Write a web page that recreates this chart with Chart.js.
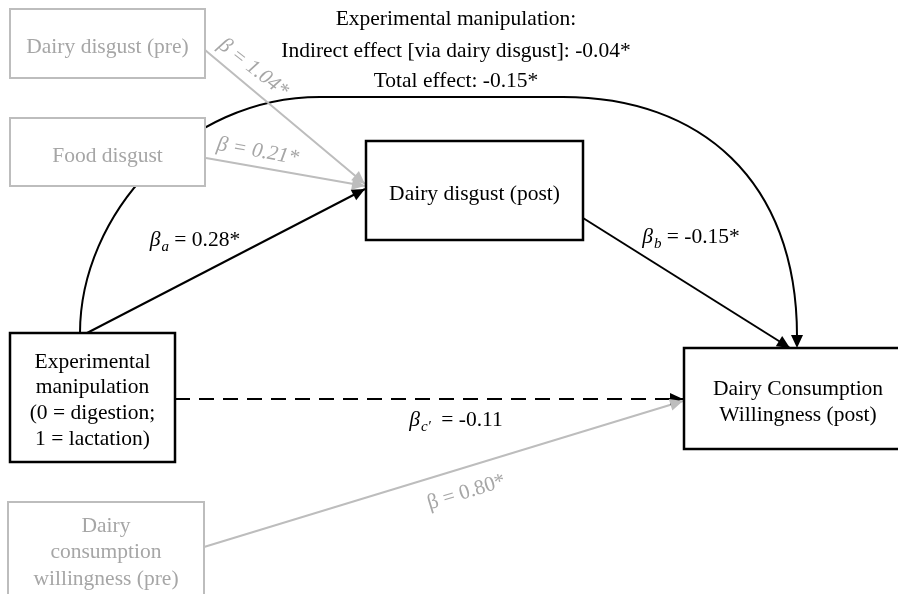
<!DOCTYPE html>
<html>
<head>
<meta charset="utf-8">
<script src="https://cdn.jsdelivr.net/npm/chart.js@4.4.1/dist/chart.umd.min.js"></script>
<style>
  body { margin: 0; background: #fff; }
  canvas { display: block; }
</style>
</head>
<body>
<canvas id="pathChart" width="898" height="594"></canvas>
<script>
// --- data ---
const nodeLabels = [
  ['Dairy disgust (pre)'],
  ['Food disgust'],
  ['Dairy disgust (post)'],
  ['Experimental', 'manipulation', '(0 = digestion;', '1 = lactation)'],
  ['Dairy', 'consumption', 'willingness (pre)'],
  ['Dairy Consumption', 'Willingness (post)']
];
const nodeIsCovariate = [true, true, false, false, true, false];

const edgeFrom = [0, 1, 3, 2, 3, 4];
const edgeTo = [2, 2, 2, 5, 5, 5];
const edgeBeta = [1.04, 0.21, 0.28, -0.15, -0.11, 0.80];
const edgeSig = [true, true, true, true, false, true];
const edgeSub = ['', '', 'a', 'b', 'c\u2032', ''];

const indirectEffect = -0.04;
const totalEffect = -0.15;

// --- layout (diagram units = pixels of the 898x594 figure) ---
const boxes = [
  [10, 9, 205, 78],
  [10, 118, 205, 186],
  [366, 141, 583, 240],
  [10, 333, 175, 462],
  [8, 502, 204, 630],
  [684, 348, 910, 449]
];
const nodeBaselines = [
  [53], [162], [200], [368, 393, 419, 445], [532, 558, 585], [395, 421]
];
const edgeStart = [[205, 50], [206, 158], [87, 333], [583, 218], [175, 399], [204, 547]];
const edgeEnd = [[365, 184], [365, 186], [365, 189], [790, 348], [683, 399], [683, 401]];
const edgeDashed = [false, false, false, false, true, false];
// label placement: [x, y, rotation deg]
const edgeLabelPos = [[254, 67, 38], [258, 150, 10], [195, 239, 0], [691, 236, 0], [456, 419, 0], [466, 491, -17]];
const totalCurve = [[80, 333], [80, 215], [185, 97], [320, 97], [563, 97], [700, 97], [797, 180], [797, 348]];

const GREY_LINE = '#bdbdbd';
const GREY_TEXT = '#a6a6a6';
const SERIF = '"Liberation Serif", "Times New Roman", serif';
const FS = 21.5;

function fmt(v) {
  return v.toFixed(2);
}

function lineColor(i) {
  return nodeIsCovariate[edgeFrom[i]] ? GREY_LINE : '#000';
}

const datasets = edgeFrom.map((f, i) => ({
  label: nodeLabels[f].join(' ') + ' -> ' + nodeLabels[edgeTo[i]].join(' '),
  data: [
    { x: edgeStart[i][0], y: edgeStart[i][1] },
    { x: edgeEnd[i][0], y: edgeEnd[i][1] }
  ],
  showLine: true,
  borderColor: lineColor(i),
  borderWidth: 2,
  borderDash: edgeDashed[i] ? [15, 9] : [],
  pointRadius: 0,
  pointHoverRadius: 0
}));

function px(chart, x, y) {
  return [chart.scales.x.getPixelForValue(x), chart.scales.y.getPixelForValue(y)];
}

function drawArrowHead(ctx, from, to, color) {
  const ang = Math.atan2(to[1] - from[1], to[0] - from[0]);
  const len = 13, half = 6;
  ctx.save();
  ctx.translate(to[0], to[1]);
  ctx.rotate(ang);
  ctx.fillStyle = color;
  ctx.beginPath();
  ctx.moveTo(0, 0);
  ctx.lineTo(-len, -half);
  ctx.lineTo(-len, half);
  ctx.closePath();
  ctx.fill();
  ctx.restore();
}

function drawBetaLabel(ctx, i) {
  const [lx, ly, rot] = edgeLabelPos[i];
  const grey = nodeIsCovariate[edgeFrom[i]];
  const rest = ' = ' + fmt(edgeBeta[i]) + (edgeSig[i] ? '*' : '');
  const sub = edgeSub[i];
  ctx.save();
  ctx.translate(lx, ly);
  ctx.rotate(rot * Math.PI / 180);
  ctx.textBaseline = 'alphabetic';
  ctx.textAlign = 'left';
  ctx.fillStyle = grey ? GREY_TEXT : '#000';
  const upright = grey && i === 5;
  const betaFont = (upright ? '' : 'italic ') + FS + 'px ' + SERIF;
  const restFont = (grey && !upright ? 'italic ' : '') + (grey ? 21 : FS) + 'px ' + SERIF;
  const subFont = 'italic 15px ' + SERIF;
  ctx.font = betaFont;
  const wb = ctx.measureText('\u03b2').width;
  ctx.font = subFont;
  const ws = sub ? ctx.measureText(sub).width + (sub.length > 1 ? 6 : 1) : 0;
  ctx.font = restFont;
  const wr = ctx.measureText(rest).width;
  let x = -(wb + ws + wr) / 2;
  const base = 7;
  ctx.font = betaFont;
  ctx.fillText('\u03b2', x, base);
  x += wb;
  if (sub) {
    ctx.font = subFont;
    ctx.fillText(sub, x + 1, base + 5);
    x += ws;
  }
  ctx.font = restFont;
  ctx.fillText(rest, x, base);
  ctx.restore();
}

const diagramPlugin = {
  id: 'pathDiagram',
  beforeDatasetsDraw(chart) {
    const ctx = chart.ctx;
    const p = totalCurve.map(c => px(chart, c[0], c[1]));
    ctx.save();
    ctx.strokeStyle = '#000';
    ctx.lineWidth = 2;
    ctx.beginPath();
    ctx.moveTo(p[0][0], p[0][1]);
    ctx.bezierCurveTo(p[1][0], p[1][1], p[2][0], p[2][1], p[3][0], p[3][1]);
    ctx.lineTo(p[4][0], p[4][1]);
    ctx.bezierCurveTo(p[5][0], p[5][1], p[6][0], p[6][1], p[7][0], p[7][1] - 12);
    ctx.stroke();
    ctx.restore();
  },
  afterDatasetsDraw(chart) {
    const ctx = chart.ctx;
    // arrowheads
    edgeFrom.forEach((f, i) => {
      drawArrowHead(ctx, px(chart, ...edgeStart[i]), px(chart, ...edgeEnd[i]), lineColor(i));
    });
    const cEnd = totalCurve[totalCurve.length - 1];
    drawArrowHead(ctx, px(chart, cEnd[0], cEnd[1] - 20), px(chart, cEnd[0], cEnd[1]), '#000');

    // boxes
    boxes.forEach((b, i) => {
      const [x0, y0] = px(chart, b[0], b[1]);
      const [x1, y1] = px(chart, b[2], b[3]);
      ctx.save();
      ctx.fillStyle = '#fff';
      ctx.fillRect(x0, y0, x1 - x0, y1 - y0);
      ctx.strokeStyle = nodeIsCovariate[i] ? GREY_LINE : '#000';
      ctx.lineWidth = nodeIsCovariate[i] ? 2 : 2.5;
      ctx.strokeRect(x0, y0, x1 - x0, y1 - y0);
      ctx.fillStyle = nodeIsCovariate[i] ? GREY_TEXT : '#000';
      ctx.font = FS + 'px ' + SERIF;
      ctx.textAlign = 'center';
      ctx.textBaseline = 'alphabetic';
      const cx = i === 5 ? (x0 + 912) / 2 : (x0 + x1) / 2;
      nodeLabels[i].forEach((line, k) => {
        ctx.fillText(line, cx, px(chart, 0, nodeBaselines[i][k])[1]);
      });
      ctx.restore();
    });

    // edge labels
    edgeFrom.forEach((f, i) => drawBetaLabel(ctx, i));

    // header text
    ctx.save();
    ctx.fillStyle = '#000';
    ctx.font = FS + 'px ' + SERIF;
    ctx.textAlign = 'center';
    ctx.textBaseline = 'alphabetic';
    ctx.fillText('Experimental manipulation:', 456, 25);
    ctx.fillText('Indirect effect [via dairy disgust]: ' + fmt(indirectEffect) + '*', 456, 57);
    ctx.fillText('Total effect: ' + fmt(totalEffect) + '*', 456, 87);
    ctx.restore();
  }
};

const ctx = document.getElementById('pathChart').getContext('2d');
new Chart(ctx, {
  type: 'scatter',
  data: { datasets },
  options: {
    responsive: false,
    animation: false,
    layout: { padding: 0 },
    plugins: {
      legend: { display: false },
      tooltip: { enabled: false }
    },
    scales: {
      x: { type: 'linear', min: 0, max: 898, display: false },
      y: { type: 'linear', min: 0, max: 594, reverse: true, display: false }
    }
  },
  plugins: [diagramPlugin]
});
</script>
</body>
</html>
